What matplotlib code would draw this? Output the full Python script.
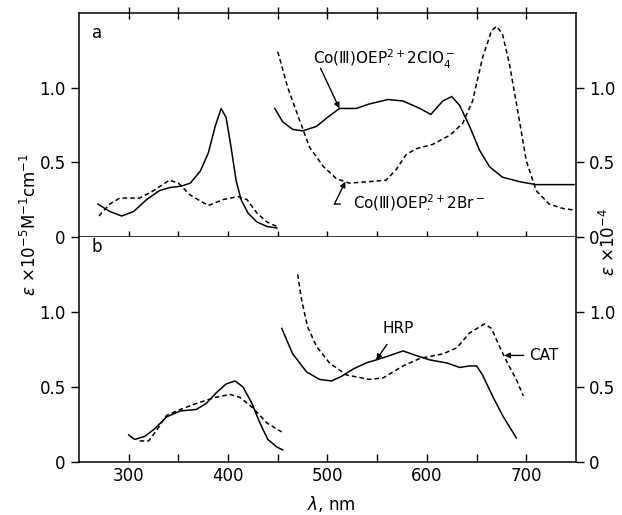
import matplotlib
matplotlib.use("Agg")
import matplotlib.pyplot as plt

# panel a, left scale (x 10^-5): Co(III)OEP 2ClO4- (solid) and 2Br- (dashed)
a_clo4_uv_wl = [269, 281, 293, 305, 318, 331, 341, 353, 362, 372, 380, 387, 393, 398, 403, 408, 413, 420, 429, 439, 449]
a_clo4_uv = [0.22, 0.17, 0.14, 0.17, 0.25, 0.31, 0.33, 0.34, 0.36, 0.44, 0.56, 0.74, 0.86, 0.80, 0.60, 0.38, 0.25, 0.16, 0.10, 0.07, 0.06]
a_br_uv_wl = [270, 281, 291, 311, 325, 341, 350, 362, 380, 395, 410, 419, 429, 439, 449]
a_br_uv = [0.14, 0.22, 0.26, 0.26, 0.31, 0.38, 0.36, 0.28, 0.21, 0.25, 0.27, 0.25, 0.16, 0.10, 0.07]

# panel a, right scale (x 10^-4)
a_clo4_vis_wl = [447, 455, 465, 475, 489, 500, 512, 529, 542, 561, 576, 593, 604, 616, 625, 633, 643, 653, 663, 676, 693, 710, 748]
a_clo4_vis = [0.86, 0.77, 0.72, 0.71, 0.74, 0.80, 0.86, 0.86, 0.89, 0.92, 0.91, 0.86, 0.82, 0.91, 0.94, 0.88, 0.74, 0.58, 0.47, 0.40, 0.37, 0.35, 0.35]
a_br_vis_wl = [450, 460, 472, 482, 496, 509, 522, 542, 559, 569, 579, 589, 606, 623, 636, 646, 656, 665, 670, 676, 683, 692, 700, 710, 723, 737, 748]
a_br_vis = [1.24, 1.00, 0.78, 0.60, 0.47, 0.39, 0.36, 0.37, 0.38, 0.45, 0.55, 0.59, 0.62, 0.68, 0.76, 0.91, 1.20, 1.38, 1.41, 1.36, 1.16, 0.82, 0.51, 0.31, 0.22, 0.19, 0.18]

# panel b, left scale: HRP (solid) and CAT (dashed)
b_hrp_uv_wl = [300, 306, 316, 326, 338, 352, 368, 378, 388, 398, 407, 415, 424, 432, 440, 449, 455]
b_hrp_uv = [0.18, 0.15, 0.17, 0.22, 0.30, 0.34, 0.35, 0.39, 0.46, 0.52, 0.54, 0.50, 0.39, 0.26, 0.15, 0.10, 0.08]
b_cat_uv_wl = [311, 320, 328, 338, 352, 368, 387, 402, 412, 425, 439, 454]
b_cat_uv = [0.14, 0.14, 0.21, 0.31, 0.35, 0.39, 0.43, 0.45, 0.43, 0.36, 0.26, 0.20]

# panel b, right scale
b_hrp_vis_wl = [454, 465, 479, 492, 504, 514, 526, 539, 549, 563, 576, 589, 603, 620, 633, 643, 650, 656, 666, 677, 690]
b_hrp_vis = [0.89, 0.72, 0.60, 0.55, 0.54, 0.57, 0.62, 0.66, 0.68, 0.71, 0.74, 0.71, 0.68, 0.66, 0.63, 0.64, 0.64, 0.58, 0.44, 0.30, 0.16]
b_cat_vis_wl = [470, 474, 480, 489, 502, 519, 542, 556, 576, 593, 616, 630, 643, 658, 665, 673, 681, 690, 697]
b_cat_vis = [1.25, 1.08, 0.90, 0.77, 0.66, 0.58, 0.55, 0.56, 0.64, 0.69, 0.72, 0.76, 0.86, 0.92, 0.89, 0.77, 0.66, 0.55, 0.44]

plt.rcParams['font.family'] = ['DejaVu Sans']
plt.rcParams['mathtext.fontset'] = 'dejavusans'
fs = 12

fig = plt.figure(figsize=(6.22, 5.15), dpi=100)
ax_a = fig.add_axes([0.127, 0.540, 0.799, 0.435])
ax_b = fig.add_axes([0.127, 0.103, 0.799, 0.437])

lw = 1.1
dsh = (3, 2)
ax_a.plot(a_clo4_uv_wl, a_clo4_uv, 'k-', lw=lw)
ax_a.plot(a_br_uv_wl, a_br_uv, 'k--', lw=lw, dashes=dsh)
ax_a.plot(a_clo4_vis_wl, a_clo4_vis, 'k-', lw=lw)
ax_a.plot(a_br_vis_wl, a_br_vis, 'k--', lw=lw, dashes=dsh)

ax_b.plot(b_hrp_uv_wl, b_hrp_uv, 'k-', lw=lw)
ax_b.plot(b_cat_uv_wl, b_cat_uv, 'k--', lw=lw, dashes=dsh)
ax_b.plot(b_hrp_vis_wl, b_hrp_vis, 'k-', lw=lw)
ax_b.plot(b_cat_vis_wl, b_cat_vis, 'k--', lw=lw, dashes=dsh)

for ax in (ax_a, ax_b):
    ax.set_xlim(250, 750)
    ax.set_ylim(0, 1.5)
    ax.set_xticks(range(300, 701, 50))
    ax.set_yticks([0, 0.5, 1.0])
    ax.set_yticklabels(['0', '0.5', '1.0'], fontsize=fs)
    ax.tick_params(axis='y', direction='out', length=6, left=True, right=True,
                   labelleft=True, labelright=True, width=1)
    for s in ax.spines.values():
        s.set_linewidth(1.1)

ax_a.tick_params(axis='x', direction='inout', length=9, top=True, bottom=True,
                 labelbottom=False, width=1)
ax_b.tick_params(axis='x', direction='in', length=6, top=False, bottom=True, width=1)
ax_b.set_xticklabels(['300', '', '400', '', '500', '', '600', '', '700'], fontsize=fs)
ax_b.spines['top'].set_visible(False)

ax_a.text(263, 1.33, 'a', fontsize=fs)
ax_b.text(263, 1.40, 'b', fontsize=fs)

arrow = dict(arrowstyle='-|>', color='k', lw=1, shrinkA=0, shrinkB=0, mutation_scale=8)

# Co(III)OEP 2ClO4- label
ax_a.text(485, 1.19, r'Co(Ⅲ)OEP$^{2+}_{\cdot}$2ClO$_4^-$', fontsize=11, va='center', ha='left')
ax_a.annotate('', xy=(512, 0.86), xytext=(493, 1.13), arrowprops=arrow)

# Co(III)OEP 2Br- label with bent pointer
ax_a.text(526, 0.23, r'Co(Ⅲ)OEP$^{2+}_{\cdot}$2Br$^-$', fontsize=11, va='center', ha='left')
ax_a.annotate('', xy=(518, 0.37), xytext=(507, 0.22), arrowprops=arrow)
ax_a.annotate('', xy=(513, 0.22), xytext=(507, 0.22),
              arrowprops=dict(arrowstyle='-', color='k', lw=1, shrinkA=0, shrinkB=0))

ax_b.annotate('HRP', xy=(549, 0.68), xytext=(571, 0.89),
              fontsize=11, va='center', ha='center',
              arrowprops=dict(arrow, shrinkA=5))
ax_b.annotate('CAT', xy=(678, 0.71), xytext=(703, 0.71),
              fontsize=11, va='center', ha='left',
              arrowprops=dict(arrow, shrinkA=2))

fig.text(0.048, 0.565, r'$\epsilon$ $\times$10$^{-5}$M$^{-1}$cm$^{-1}$', rotation=90,
         ha='center', va='center', fontsize=fs)
fig.text(0.979, 0.53, r'$\epsilon$ $\times$10$^{-4}$', rotation=90,
         ha='center', va='center', fontsize=fs)
fig.text(0.532, 0.022, r'$\lambda$, nm', ha='center', va='center', fontsize=fs)

fig.savefig('out.png', dpi=100)
